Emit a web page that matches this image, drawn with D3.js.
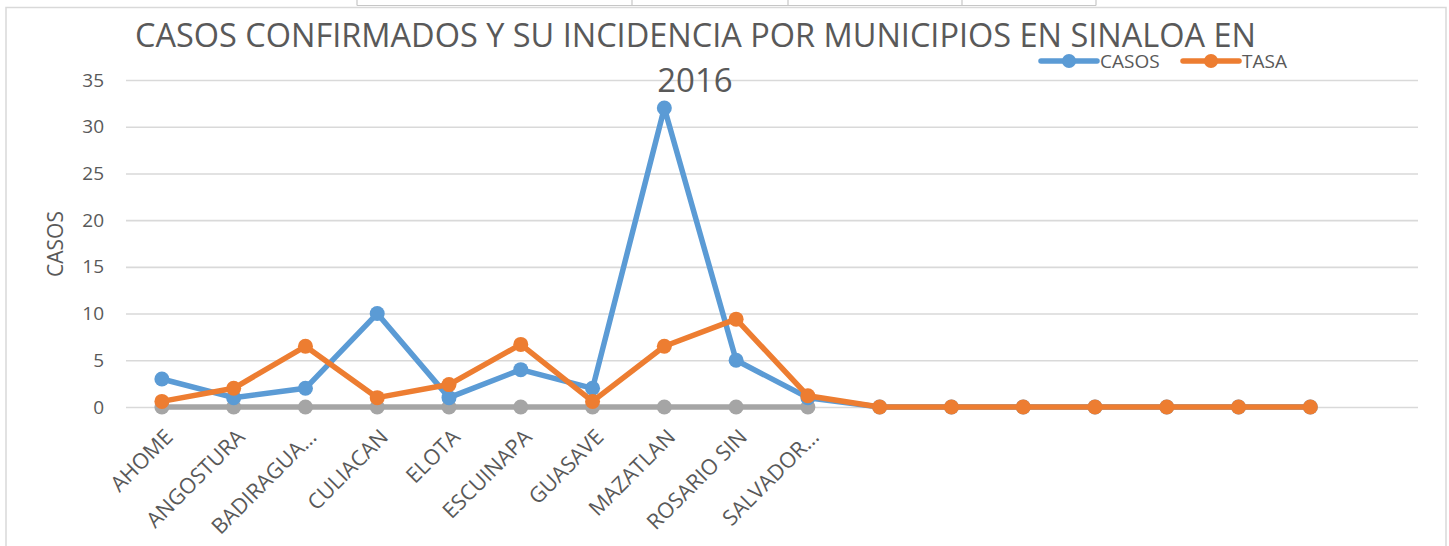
<!DOCTYPE html>
<html>
<head>
<meta charset="utf-8">
<script src="https://cdn.jsdelivr.net/npm/d3@7"></script>
<style>
  html, body { margin: 0; padding: 0; background: #ffffff; }
  svg { display: block; }
  text { font-family: "Open Sans", "Noto Sans", sans-serif; fill: #595959; }
</style>
</head>
<body>
<svg id="chart" width="1449" height="546"></svg>
<script>
// ---- data ----
const categories = ["AHOME", "ANGOSTURA", "BADIRAGUA\u2026", "CULIACAN", "ELOTA", "ESCUINAPA",
  "GUASAVE", "MAZATLAN", "ROSARIO SIN", "SALVADOR\u2026", "", "", "", "", "", "", "", ""];
const casos = [3, 1, 2, 10, 1, 4, 2, 32, 5, 1, 0, 0, 0, 0, 0, 0, 0];
const tasa = [0.6, 2.0, 6.5, 1.0, 2.4, 6.7, 0.6, 6.5, 9.4, 1.2, 0, 0, 0, 0, 0, 0, 0];
const tercera = [0, 0, 0, 0, 0, 0, 0, 0, 0, 0];
const yTicks = [0, 5, 10, 15, 20, 25, 30, 35];
const titleLines = ["CASOS CONFIRMADOS Y SU INCIDENCIA POR MUNICIPIOS EN SINALOA EN", "2016"];
const yTitle = "CASOS";
const legendNames = ["CASOS", "TASA"];

const colors = { casos: "#5b9bd5", tasa: "#ed7d31", tercera: "#a5a5a5" };

const svg = d3.select("#chart");

// spreadsheet cell fragments behind chart (top)
const cellG = svg.append("g").attr("stroke", "#c6c6c6").attr("stroke-width", 1.2).attr("fill", "none");
cellG.append("line").attr("x1", 357).attr("x2", 1096).attr("y1", 5.5).attr("y2", 5.5);
[357, 632, 788, 962, 1096].forEach(x => {
  cellG.append("line").attr("x1", x).attr("x2", x).attr("y1", 0).attr("y2", 5.5);
});

// chart frame
svg.append("rect").attr("x", 6).attr("y", 7.5).attr("width", 1440).attr("height", 560)
  .attr("fill", "#ffffff").attr("stroke", "#d9d9d9").attr("stroke-width", 1.5);

// scales
const x = d3.scalePoint().domain(d3.range(categories.length)).range([126, 1418]).padding(0.5);
const y = d3.scaleLinear().domain([0, 35]).range([407, 80]);

// gridlines
const grid = svg.append("g")
  .attr("transform", "translate(126,0)")
  .call(d3.axisLeft(y).tickValues(yTicks).tickSize(-1292).tickFormat(""));
grid.select(".domain").remove();
grid.selectAll(".tick line").attr("stroke", "#d9d9d9").attr("stroke-width", 1.6);

// y tick labels
const yAxis = svg.append("g")
  .attr("transform", "translate(104,0)")
  .call(d3.axisLeft(y).tickValues(yTicks).tickSize(0).tickPadding(0));
yAxis.select(".domain").remove();
yAxis.selectAll("text").attr("font-size", 19).attr("fill", "#595959")
  .style("font-family", "'Open Sans', sans-serif");

// x labels
const xAxis = svg.append("g");
xAxis.selectAll("text").data(categories.map((c, i) => ({ c, i })).filter(d => d.c !== ""))
  .enter().append("text")
  .attr("transform", d => `translate(${x(d.i) + 7},433) rotate(-45)`)
  .attr("text-anchor", "end")
  .attr("dy", "0.35em")
  .attr("font-size", 21.5)
  .text(d => d.c);

// title
svg.append("text").attr("x", 695.5).attr("y", 47).attr("text-anchor", "middle")
  .attr("font-size", 33).attr("textLength", 1121).attr("lengthAdjust", "spacingAndGlyphs")
  .text(titleLines[0]);
svg.append("text").attr("x", 695).attr("y", 92).attr("text-anchor", "middle")
  .attr("font-size", 33).text(titleLines[1]);

// y axis title
svg.append("text").attr("transform", "translate(56,244) rotate(-90)")
  .attr("text-anchor", "middle").attr("dy", "0.35em").attr("font-size", 21).text(yTitle);

// series
const line = d3.line().x((d, i) => x(i)).y(d => y(d));
function drawSeries(data, color) {
  const g = svg.append("g");
  g.append("path").datum(data).attr("d", line).attr("fill", "none")
    .attr("stroke", color).attr("stroke-width", 5.5).attr("stroke-linejoin", "round").attr("stroke-linecap", "round");
  g.selectAll("circle").data(data).enter().append("circle")
    .attr("cx", (d, i) => x(i)).attr("cy", d => y(d)).attr("r", 7.5).attr("fill", color);
}
drawSeries(tercera, colors.tercera);
drawSeries(casos, colors.casos);
drawSeries(tasa, colors.tasa);

// legend
const legendItems = [
  { name: legendNames[0], color: colors.casos, x1: 1041, x2: 1097, tx: 1100 },
  { name: legendNames[1], color: colors.tasa, x1: 1183, x2: 1239, tx: 1242 }
];
const lg = svg.append("g");
legendItems.forEach(it => {
  lg.append("line").attr("x1", it.x1).attr("x2", it.x2).attr("y1", 61).attr("y2", 61)
    .attr("stroke", it.color).attr("stroke-width", 5.5).attr("stroke-linecap", "round");
  lg.append("circle").attr("cx", (it.x1 + it.x2) / 2).attr("cy", 61).attr("r", 7).attr("fill", it.color);
  lg.append("text").attr("x", it.tx).attr("y", 61).attr("dy", "0.35em").attr("font-size", 19).text(it.name);
});
</script>
</body>
</html>
